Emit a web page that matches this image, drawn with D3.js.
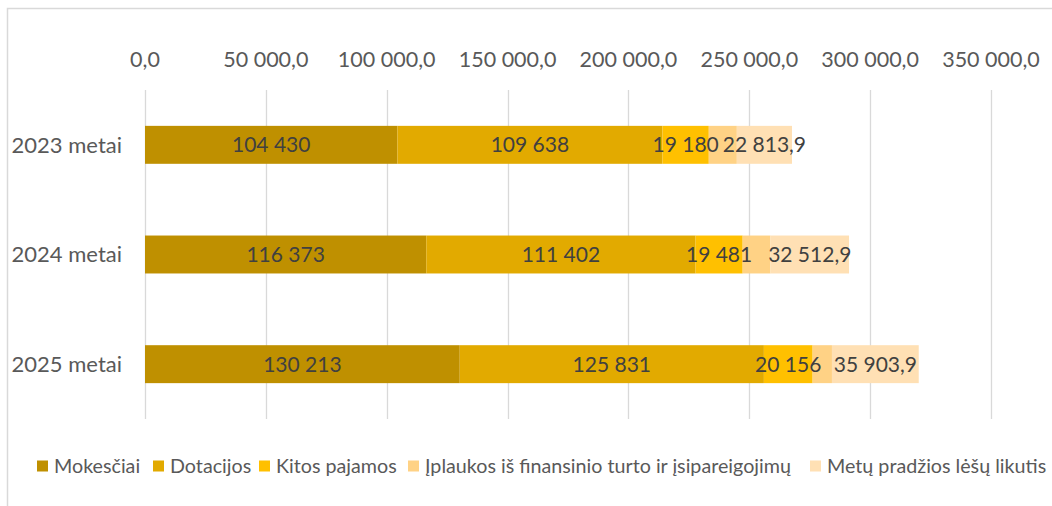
<!DOCTYPE html>
<html>
<head>
<meta charset="utf-8">
<script src="https://cdn.jsdelivr.net/npm/d3@7"></script>
<style>
  body { margin: 0; background: #fff; }
  svg { display: block; font-family: Lato, "Liberation Sans", sans-serif; }
</style>
</head>
<body>
<svg id="chart" width="1052" height="506"></svg>
<script>
// data
const years = ["2023 metai", "2024 metai", "2025 metai"];
const seriesNames = ["Mokesčiai", "Dotacijos", "Kitos pajamos", "Įplaukos iš finansinio turto ir įsipareigojimų", "Metų pradžios lėšų likutis"];
const mokesciai = [104430, 116373, 130213];
const dotacijos = [109638, 111402, 125831];
const kitosPajamos = [19180, 19481, 20156];
const iplaukos = [11600, 11500, 8000];
const likutis = [22813.9, 32512.9, 35903.9];
const xTicks = [0, 50000, 100000, 150000, 200000, 250000, 300000, 350000];

const colors = ["#BF9000", "#E2AA00", "#FFC000", "#FFD285", "#FFE0B4"];
const showLabel = [true, true, true, false, true];

const values = [mokesciai, dotacijos, kitosPajamos, iplaukos, likutis];
const rows = years.map((y, i) => {
  const r = { year: y };
  seriesNames.forEach((s, j) => r[s] = values[j][i]);
  return r;
});

const lt = d3.formatLocale({ decimal: ",", thousands: " ", grouping: [3], currency: ["", ""] });
const fmtInt = lt.format(",.0f");
const fmt1 = lt.format(",.1f");

const svg = d3.select("#chart");

// chart border (cropped at right and bottom)
svg.append("path")
  .attr("d", "M7.5,506 V8.5 H1052")
  .attr("fill", "none")
  .attr("stroke", "#d9d9d9")
  .attr("stroke-width", 1.5);

const x = d3.scaleLinear().domain([0, 350000]).range([145, 991]);
const y = d3.scaleBand().domain(years).range([90, 419]).paddingInner(0.654).paddingOuter(0.327);

// gridlines
svg.append("g").selectAll("line").data(xTicks).join("line")
  .attr("x1", d => Math.round(x(d)) + 0.5).attr("x2", d => Math.round(x(d)) + 0.5)
  .attr("y1", 90).attr("y2", 419)
  .attr("stroke", "#d9d9d9").attr("stroke-width", 1.3);

// top axis labels
svg.append("g").selectAll("text").data(xTicks).join("text")
  .attr("x", d => x(d)).attr("y", 67)
  .attr("text-anchor", "middle")
  .attr("fill", "#595959").attr("font-size", 21.5)
  .text(d => fmt1(d));

// category labels
svg.append("g").selectAll("text").data(years).join("text")
  .attr("x", 122).attr("y", d => y(d) + y.bandwidth() / 2)
  .attr("dy", "0.36em")
  .attr("text-anchor", "end")
  .attr("fill", "#595959").attr("font-size", 22)
  .text(d => d);

const stack = d3.stack().keys(seriesNames);
const stacked = stack(rows);

const layers = svg.append("g").selectAll("g").data(stacked).join("g")
  .attr("fill", (d, i) => colors[i]);

layers.selectAll("rect").data(d => d).join("rect")
  .attr("x", d => x(d[0]))
  .attr("width", d => x(d[1]) - x(d[0]))
  .attr("y", d => y(d.data.year))
  .attr("height", y.bandwidth());

// data labels
stacked.forEach((layer, i) => {
  if (!showLabel[i]) return;
  svg.append("g").selectAll("text").data(layer).join("text")
    .attr("x", d => (x(d[0]) + x(d[1])) / 2)
    .attr("y", d => y(d.data.year) + y.bandwidth() / 2)
    .attr("dy", "0.36em")
    .attr("text-anchor", "middle")
    .attr("fill", "#404040").attr("font-size", 21)
    .text(d => {
      const v = d[1] - d[0];
      return i === 4 ? fmt1(v) : fmtInt(v);
    });
});

// legend
const legendX = [37, 153, 259, 408, 810];
const legend = svg.append("g").selectAll("g").data(seriesNames).join("g")
  .attr("transform", (d, i) => `translate(${legendX[i]},466)`);
legend.append("rect")
  .attr("x", 0).attr("y", -5.5).attr("width", 11).attr("height", 11)
  .attr("fill", (d, i) => colors[i]);
legend.append("text")
  .attr("x", 17).attr("dy", "0.36em")
  .attr("fill", "#595959").attr("font-size", 19.7)
  .text(d => d);
</script>
</body>
</html>
